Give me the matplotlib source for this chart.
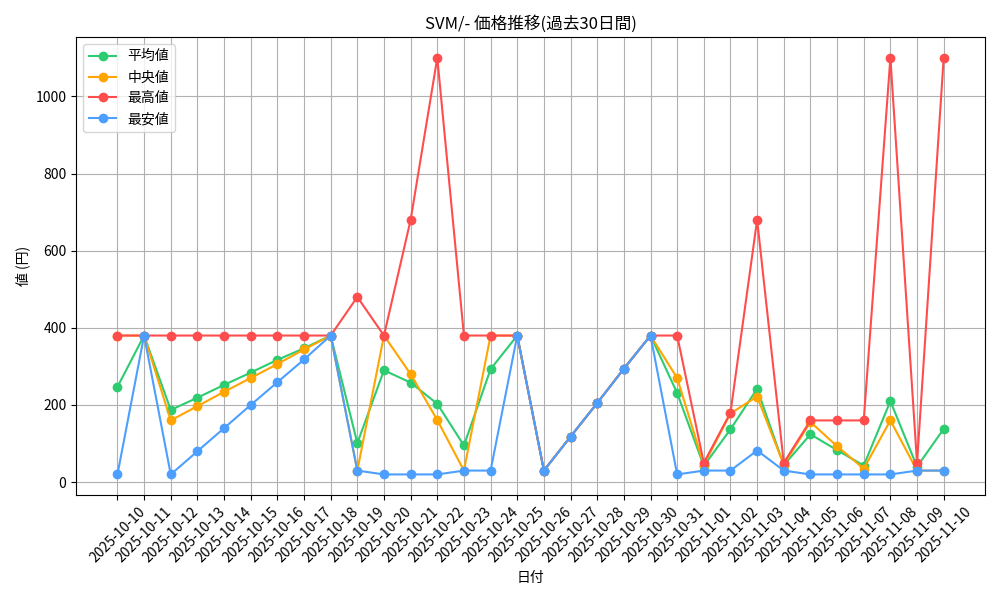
import matplotlib
matplotlib.use("Agg")
import matplotlib.pyplot as plt

plt.rcParams["font.family"] = ["Noto Sans CJK JP", "DejaVu Sans"]

dates = [f"2025-10-{d:02d}" for d in range(10, 32)] + [f"2025-11-{d:02d}" for d in range(1, 11)]

avg_vals = [247, 380, 187, 219, 252, 284, 317, 347, 380, 101,
            290, 258, 203, 95, 293, 380, 30, 118, 205, 294,
            380, 231, 42, 137, 242, 44, 124, 83, 43, 210,
            40, 138]
median_vals = [380, 380, 160, 197, 234, 270, 306, 344, 380, 30,
               380, 280, 161, 30, 380, 380, 30, 118, 205, 294,
               380, 270, 45, 178, 222, 45, 156, 93, 35, 160,
               30, 30]
max_vals = [380, 380, 380, 380, 380, 380, 380, 380, 380, 480,
            380, 680, 1100, 380, 380, 380, 30, 118, 205, 294,
            380, 380, 50, 180, 680, 50, 160, 160, 160, 1100,
            50, 1100]
min_vals = [20, 380, 20, 80, 140, 200, 259, 318, 380, 30,
            20, 20, 20, 30, 30, 380, 30, 118, 205, 294,
            380, 20, 30, 30, 82, 30, 20, 20, 20, 20,
            30, 30]

series = [
    ("平均値", avg_vals, "#2ecc71"),
    ("中央値", median_vals, "#ffa500"),
    ("最高値", max_vals, "#ff4d4d"),
    ("最安値", min_vals, "#4d9fff"),
]

fig, ax = plt.subplots(figsize=(10, 6), dpi=100)
for label, vals, color in series:
    ax.plot(dates, vals, marker="o", color=color, label=label)

ax.set_title("SVM/- 価格推移(過去30日間)")
ax.set_xlabel("日付")
ax.set_ylabel("値 (円)")
ax.legend(loc="upper left")
ax.grid(True)
plt.xticks(rotation=45)
plt.tight_layout()
plt.savefig("out.png")
